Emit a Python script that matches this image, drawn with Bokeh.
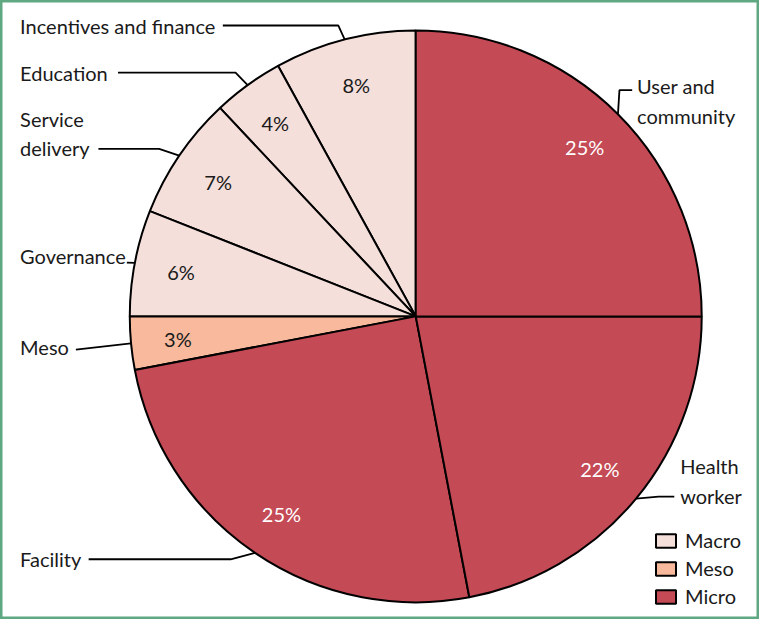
import math
from bokeh.plotting import figure
from bokeh.models import ColumnDataSource, Range1d
from bokeh.core.properties import value
from bokeh.embed import file_html
from bokeh.resources import INLINE

# ---- data (counter-clockwise from 12 o'clock) ----
categories = ["Incentives and finance", "Education", "Service delivery", "Governance",
              "Meso", "Facility", "Health worker", "User and community"]
label_text = ["Incentives and finance", "Education", "Service\ndelivery", "Governance",
              "Meso", "Facility", "Health\nworker", "User and\ncommunity"]
shares = [8, 4, 7, 6, 3, 25, 22, 25]
levels = ["Macro", "Macro", "Macro", "Macro", "Meso", "Micro", "Micro", "Micro"]

# ---- style ----
FONT = "Lato"
level_fill = {"Macro": "#f4dfdb", "Meso": "#f8b99c", "Micro": "#c44a55"}
level_text = {"Macro": "#1a1a1a", "Meso": "#1a1a1a", "Micro": "#ffffff"}

CX, CY_REF, R = 424, 324, 292
H_REF = 635
CY = H_REF - CY_REF

total = sum(shares)
starts, ends, mids = [], [], []
acc = 0.0
for s in shares:
    a0 = math.pi / 2 + 2 * math.pi * acc / total
    acc += s
    a1 = math.pi / 2 + 2 * math.pi * acc / total
    starts.append(a0)
    ends.append(a1)
    mids.append((a0 + a1) / 2)

src = ColumnDataSource(dict(
    cat=categories, share=shares, level=levels,
    start=starts, end=ends,
    fill=[level_fill[l] for l in levels],
))

p = figure(width=759, height=619, output_backend="svg", toolbar_location=None,
           x_range=Range1d(0, 775), y_range=Range1d(1.5, 633.55),
           min_border=0, background_fill_color="white", border_fill_color="white")
p.axis.visible = False
p.grid.visible = False
p.outline_line_color = "#5fa882"
p.outline_line_width = 4

p.wedge(x=CX, y=CY, radius=R, start_angle="start", end_angle="end",
        direction="anticlock", fill_color="fill", line_color="black",
        line_width=2, source=src, legend_field="level")

# percentage labels inside slices
RL = 244
pct_src = ColumnDataSource(dict(
    x=[CX + RL * math.cos(m) for m in mids],
    y=[CY + RL * math.sin(m) for m in mids],
    t=[f"{s}%" for s in shares],
    c=[level_text[l] for l in levels],
))
p.text(x="x", y="y", text="t", text_color="c", source=pct_src,
       text_font=value(FONT), text_font_size="20px",
       text_align="center", text_baseline="middle")

# leader lines: from arc (slice middle) to elbow/end points (layout, ref px)
leader_pts = [
    [(345, 27), (227, 27)],
    [(240, 75), (120, 75)],
    [(162, 153), (100, 153)],
    [(129, 269)],
    [(77, 358)],
    [(235, 572), (90, 572)],
    [(672, 508), (688, 508)],
    [(632, 93), (645, 93)],
]
xs, ys = [], []
for m, pts in zip(mids, leader_pts):
    lx = [CX + R * math.cos(m)] + [q[0] for q in pts]
    ly = [CY + R * math.sin(m)] + [H_REF - q[1] for q in pts]
    xs.append(lx)
    ys.append(ly)
p.multi_line(xs=xs, ys=ys, line_color="black", line_width=1.8)

# category labels (layout positions in ref px)
label_pos = [(20, 27), (20, 75), (20, 137), (20, 262), (20, 355), (20, 572),
             (694, 492), (650, 104)]
lab_src = ColumnDataSource(dict(
    x=[q[0] for q in label_pos],
    y=[H_REF - q[1] for q in label_pos],
    t=label_text,
))
p.text(x="x", y="y", text="t", source=lab_src, text_color="#1a1a1a",
       text_font=value(FONT), text_font_size="20px",
       text_align="left", text_baseline="middle", text_line_height=1.22)

legend = p.legend[0]
legend.location = (653, 11)
legend.margin = 0
legend.padding = 0
legend.spacing = 4
legend.glyph_width = 25
legend.glyph_height = 17
legend.label_height = 17
legend.label_standoff = 7
legend.label_text_font = FONT
legend.label_text_font_size = "20px"
legend.label_text_color = "#1a1a1a"
legend.label_text_baseline = "middle"
legend.border_line_alpha = 0
legend.background_fill_alpha = 0

open("out.html", "w").write(file_html(p, INLINE))
